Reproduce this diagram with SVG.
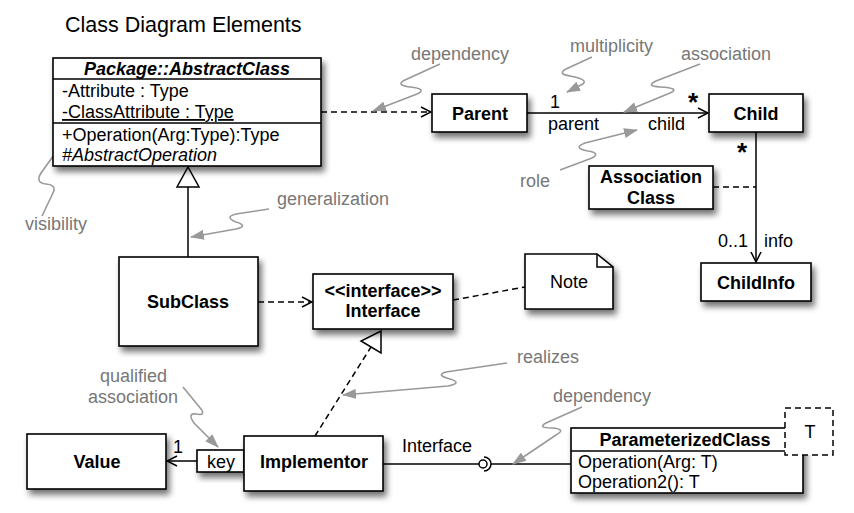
<svg xmlns="http://www.w3.org/2000/svg" width="854" height="513" viewBox="0 0 854 513">
<defs>
<filter id="sh" x="-20%" y="-20%" width="150%" height="170%">
<feGaussianBlur in="SourceAlpha" stdDeviation="3"/>
<feOffset dx="3" dy="5" result="b"/>
<feComponentTransfer><feFuncA type="linear" slope="0.55"/></feComponentTransfer>
<feMerge><feMergeNode/><feMergeNode in="SourceGraphic"/></feMerge>
</filter>
<marker id="open" viewBox="0 0 12 12" refX="11" refY="6" markerWidth="12" markerHeight="12" markerUnits="userSpaceOnUse" orient="auto">
<path d="M1,1 L11,6 L1,11" fill="none" stroke="#000" stroke-width="1.5"/>
</marker>
<marker id="gray" viewBox="0 0 14 10" refX="13" refY="5" markerWidth="14" markerHeight="10" markerUnits="userSpaceOnUse" orient="auto">
<path d="M0,0 L14,5 L0,10 z" fill="#999"/>
</marker>
</defs>
<style>
.box{fill:#fff;stroke:#000;stroke-width:1.6;filter:url(#sh)}
.ln{fill:none;stroke:#000;stroke-width:1.5}
.dash{fill:none;stroke:#000;stroke-width:1.5;stroke-dasharray:6 4}
.sq{fill:none;stroke:#999;stroke-width:1.6}
text{font-family:"Liberation Sans",Arial,sans-serif;font-size:18px;fill:#000}
.b{font-weight:bold}
.c{text-anchor:middle}
.g{fill:#777}
</style>

<text x="65" y="32" style="font-size:21.5px">Class Diagram Elements</text>

<g id="connectors">
<path class="dash" d="M321,112 L431,112" marker-end="url(#open)"/>
<path class="ln" d="M528,113 L708,113" marker-start="url(#open)" marker-end="url(#open)"/>
<path class="ln" d="M756,132 L756,262" marker-end="url(#open)"/>
<path class="dash" d="M713,187 L756,187"/>
<path class="ln" d="M188,187 L188,257"/>
<path d="M188,167 L177,187 L199,187 z" fill="#fff" stroke="#000" stroke-width="1.5"/>
<path class="dash" d="M258,302 L312,302" marker-end="url(#open)"/>
<path class="dash" d="M453,300 L525,287"/>
<path class="dash" d="M315,436 L371,347"/>
<path d="M381,331 L361,341 L381,353 z" fill="#fff" stroke="#000" stroke-width="1.5"/>
<path class="ln" d="M197,461 L167,461" marker-end="url(#open)"/>
<path class="ln" d="M383,464 L479,464"/>
<circle cx="483" cy="464" r="4" fill="#fff" stroke="#000" stroke-width="1.5"/>
<path class="ln" d="M484,457 A7,7 0 0 1 484,471"/>
<path class="ln" d="M491,464 L571,464"/>
<text x="550" y="108">1</text>
<text x="693" y="111" class="b c" style="font-size:26px">*</text>
<text x="742" y="161" class="b c" style="font-size:26px">*</text>
<text x="548" y="130">parent</text>
<text x="648" y="130">child</text>
<text x="718" y="247">0..1</text>
<text x="764" y="247">info</text>
<text x="173" y="453">1</text>
<text x="402" y="452">Interface</text>
</g>

<g id="annotations">
<path class="sq" d="M440,64 L405,80 Q395,85 410,87 Q428,89 417,94 L373,111" marker-end="url(#gray)"/>
<text x="411" y="60" class="g">dependency</text>
<path class="sq" d="M592,57 L566,69 Q557,74 570,76 Q591,80 581,85 L567,92" marker-end="url(#gray)"/>
<text x="570" y="52" class="g">multiplicity</text>
<path class="sq" d="M700,64 L656,81 Q645,86 660,87 Q681,88 670,93 L624,112" marker-end="url(#gray)"/>
<text x="681" y="60" class="g">association</text>
<path class="sq" d="M560,170 L592,158 Q601,153 588,151 Q572,148 585,143 L637,130" marker-end="url(#gray)"/>
<text x="520" y="187" class="g">role</text>
<path class="sq" d="M42,216 L53,193 Q57,185 46,184 Q35,183 41,173 L64,141" marker-end="url(#gray)"/>
<text x="25" y="230" class="g">visibility</text>
<path class="sq" d="M269,209 L236,214 Q224,217 236,222 Q249,226 236,229 L191,237" marker-end="url(#gray)"/>
<text x="277" y="205" class="g">generalization</text>
<path class="sq" d="M183,387 L201,409 Q206,416 196,414 Q187,413 194,423 L218,447" marker-end="url(#gray)"/>
<text x="100" y="382" class="g">qualified</text>
<text x="88" y="403" class="g">association</text>
<path class="sq" d="M507,363 L446,372 Q435,375 450,379 Q463,383 448,386 L343,395" marker-end="url(#gray)"/>
<text x="517" y="363" class="g">realizes</text>
<path class="sq" d="M582,407 L546,423 Q537,428 552,428 Q567,429 556,435 L513,464" marker-end="url(#gray)"/>
<text x="553" y="402" class="g">dependency</text>
</g>

<g id="AbstractClass">
<rect class="box" x="53" y="58" width="268" height="108"/>
<path class="ln" d="M53,79 L321,79 M53,123 L321,123"/>
<text x="187" y="75" class="b c" style="font-style:italic">Package::AbstractClass</text>
<text x="62" y="97">-Attribute : Type</text>
<text x="62" y="118" style="text-decoration:underline">-ClassAttribute : Type</text>
<text x="62" y="141">+Operation(Arg:Type):Type</text>
<text x="62" y="161" style="font-style:italic">#AbstractOperation</text>
</g>

<g id="Parent">
<rect class="box" x="432" y="94" width="95" height="38"/>
<text x="480" y="120" class="b c">Parent</text>
</g>

<g id="Child">
<rect class="box" x="709" y="94" width="94" height="38"/>
<text x="756" y="120" class="b c">Child</text>
</g>

<g id="AssociationClass">
<rect class="box" x="589" y="166" width="124" height="43"/>
<text x="651" y="183" class="b c">Association</text>
<text x="651" y="204" class="b c">Class</text>
</g>

<g id="ChildInfo">
<rect class="box" x="701" y="263" width="110" height="38"/>
<text x="756" y="289" class="b c">ChildInfo</text>
</g>

<g id="Note">
<path class="box" d="M525,254 L597,254 L613,267 L613,309 L525,309 z"/>
<path class="ln" d="M597,254 L597,267 L613,267" stroke-width="1.2"/>
<text x="569" y="288" class="c">Note</text>
</g>

<g id="SubClass">
<rect class="box" x="119" y="257" width="139" height="89"/>
<text x="188" y="308" class="b c">SubClass</text>
</g>

<g id="Interface">
<rect class="box" x="313" y="274" width="140" height="55"/>
<text x="383" y="297" class="b c">&lt;&lt;interface&gt;&gt;</text>
<text x="383" y="317" class="b c">Interface</text>
</g>

<g id="Value">
<rect class="box" x="27" y="434" width="139" height="55"/>
<text x="97" y="468" class="b c">Value</text>
</g>

<g id="key">
<rect class="box" x="197" y="450" width="47" height="22"/>
<text x="207" y="468">key</text>
</g>

<g id="Implementor">
<rect class="box" x="244" y="436" width="139" height="55"/>
<text x="314" y="468" class="b c">Implementor</text>
</g>

<g id="ParameterizedClass">
<rect class="box" x="571" y="428" width="232" height="65"/>
<path class="ln" d="M571,451 L785,451"/>
<text x="685" y="446" class="b c">ParameterizedClass</text>
<text x="578" y="468">Operation(Arg: T)</text>
<text x="578" y="488">Operation2(): T</text>
<rect x="785" y="408" width="48" height="47" fill="#fff" stroke="#000" stroke-width="1.5" stroke-dasharray="6 4"/>
<text x="810" y="438" class="c">T</text>
</g>
</svg>
